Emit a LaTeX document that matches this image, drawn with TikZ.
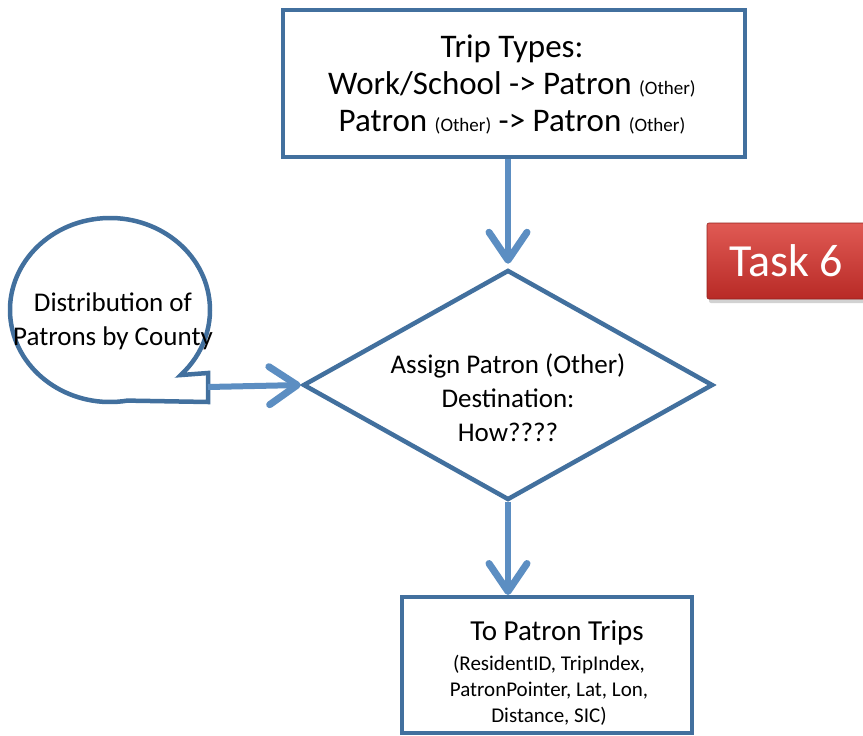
\documentclass[tikz,border=0pt]{standalone}
\usepackage{fontspec}
\setmainfont{Carlito}
\usetikzlibrary{shapes.geometric,arrows.meta,calc,shadows}
\definecolor{boxline}{RGB}{66,112,158}
\definecolor{arrowblue}{RGB}{92,142,194}
\definecolor{badgetop}{RGB}{224,90,84}
\definecolor{badgebot}{RGB}{184,42,38}
\tikzset{
  flowbox/.style={draw=boxline, line width=4.5pt, fill=white, rectangle, inner sep=0pt},
  decision/.style={draw=boxline, line width=4.5pt, diamond, inner sep=0pt},
  flowarrow/.style={draw=arrowblue, line width=6pt,
    -{Straight Barb[length=28pt,width=38pt,line width=7pt,round]}},
  bigtxt/.style={font=\fontsize{33}{37}\selectfont, align=center, text=black},
  midtxt/.style={font=\fontsize{27}{34}\selectfont, align=center, text=black},
  smalltxt/.style={font=\fontsize{21}{26}\selectfont, align=center, text=black},
}
\newcommand{\sm}[1]{{\fontsize{19}{19}\selectfont #1}}
\begin{document}
\begin{tikzpicture}[x=1pt,y=-1pt]
  \useasboundingbox (0,0) rectangle (863,736);
  \fill[white] (0,0) rectangle (863,736);

  % top box: trip types
  \node[flowbox, minimum width=462pt, minimum height=147pt] (types) at (514,83.5) {};
  \node[bigtxt] (typestxt) at (512,84)
    {Trip Types:\\Work/School -> Patron \sm{(Other)}\\Patron \sm{(Other)} -> Patron \sm{(Other)}};

  % decision diamond
  \node[decision, minimum width=410pt, minimum height=230pt] (assign) at (508,385) {};
  \node[midtxt] (assigntxt) at (508,398)
    {Assign Patron (Other)\\Destination:\\How????};

  % output box
  \node[flowbox, line width=4pt, minimum width=290pt, minimum height=136pt] (out) at (547,665) {};
  \node[text=black, font=\fontsize{29}{30}\selectfont] (outtitle) at (557,633) {To Patron Trips};
  \node[smalltxt] (outfields) at (549,690)
    {(ResidentID, TripIndex,\\PatronPointer, Lat, Lon,\\Distance, SIC)};

  % callout bubble with its tail
  \draw[draw=boxline, line width=4.5pt, line join=miter]
    (208,402) -- ($(110,310)+(80:100 and 92)$)
    arc[start angle=80, end angle=405, x radius=100, y radius=92]
    -- (208,373) -- cycle;
  \coordinate (tail) at (208,387);
  \node[midtxt] (distr) at (113,321)
    {Distribution of\\Patrons by County};

  % badge
  \node[rectangle, rounded corners=2pt, minimum width=158pt, minimum height=76pt,
        top color=badgetop, bottom color=badgebot, draw=badgebot!80!black, line width=0.6pt,
        drop shadow={shadow xshift=2pt, shadow yshift=-4pt, opacity=0.35},
        text=white, font=\fontsize{46}{46}\selectfont] (task) at (786,261) {Task 6};

  % connectors
  \draw[flowarrow] (assign.north |- types.south) -- ([yshift=4pt]assign.north);
  \draw[flowarrow] (tail) -- (assign.west);
  \draw[flowarrow] (assign.south) -- (assign.south |- out.north);
\end{tikzpicture}
\end{document}
